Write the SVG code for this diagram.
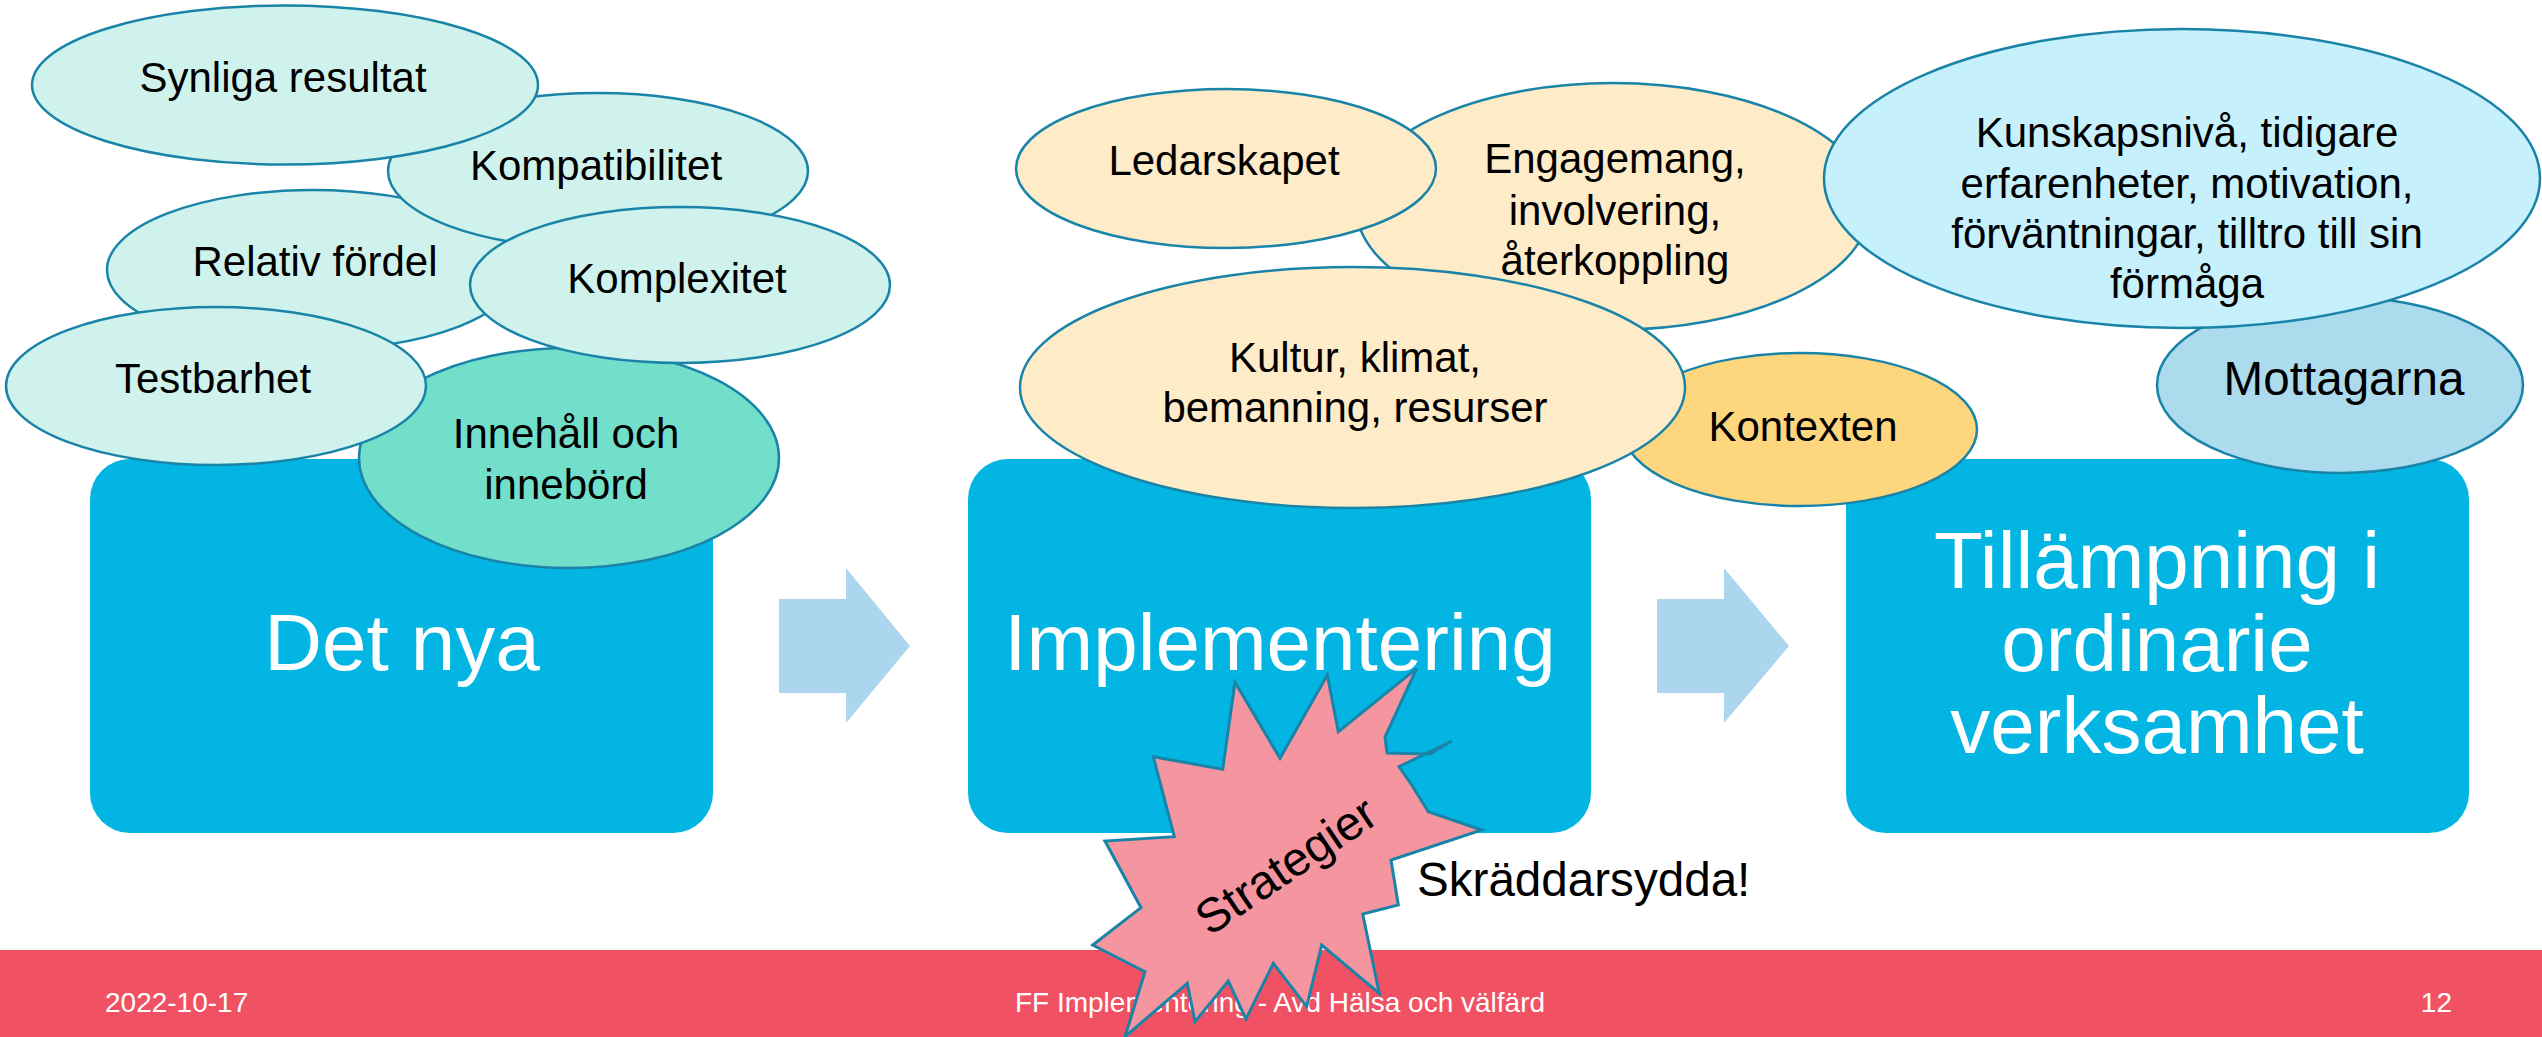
<svg xmlns="http://www.w3.org/2000/svg" width="2542" height="1037" viewBox="0 0 2542 1037">
<style>
.box{fill:#02B5E2;}
.boxtxt{font-family:"Liberation Sans",Arial,sans-serif;font-size:80px;fill:#FFFFFF;text-anchor:middle;}
.ell{stroke:#1A84A8;stroke-width:2.5;}
.teal{fill:#CFF3EC;}
.teal2{fill:#72DFCB;}
.cream{fill:#FEEBC8;}
.gold{fill:#FED67E;}
.sky{fill:#C6F0FC;}
.blue{fill:#ADDBEE;}
.t{font-family:"Liberation Sans",Arial,sans-serif;font-size:42px;fill:#000000;text-anchor:middle;}
.t18{font-family:"Liberation Sans",Arial,sans-serif;font-size:47.6px;fill:#000000;}
.arrow{fill:#ABD6EE;}
.foot{font-family:"Liberation Sans",Arial,sans-serif;font-size:28px;fill:#FFFFFF;}
</style>
<rect width="2542" height="1037" fill="#FFFFFF"/>

<g id="box-det-nya">
<rect class="box" x="90" y="459" width="623" height="374" rx="40" ry="40"/>
<text class="boxtxt" x="402" y="670">Det nya</text>
</g>
<g id="box-implementering">
<rect class="box" x="968" y="459" width="623" height="374" rx="40" ry="40"/>
<text class="boxtxt" x="1280" y="670">Implementering</text>
</g>
<g id="box-tillampning">
<rect class="box" x="1846" y="459" width="623" height="374" rx="40" ry="40"/>
<text class="boxtxt" x="2157" y="588">Tillämpning i</text>
<text class="boxtxt" x="2157" y="671">ordinarie</text>
<text class="boxtxt" x="2157" y="753">verksamhet</text>
</g>

<g id="connectors">
<polygon class="arrow" points="779,599 846,599 846,568 910,646 846,723 846,693 779,693"/>
<polygon class="arrow" points="1657,599 1724,599 1724,568 1789,646 1724,723 1724,693 1657,693"/>
</g>

<g id="innehall">
<ellipse class="ell teal2" cx="569" cy="458" rx="210" ry="110"/>
<text class="t" x="566" y="448">Innehåll och</text>
<text class="t" x="566" y="499">innebörd</text>
</g>
<g id="relativ-fordel">
<ellipse class="ell teal" cx="313" cy="270" rx="206" ry="80"/>
<text class="t" x="315" y="276">Relativ fördel</text>
</g>
<g id="kompatibilitet">
<ellipse class="ell teal" cx="598" cy="171" rx="210" ry="78"/>
<text class="t" x="596" y="180">Kompatibilitet</text>
</g>
<g id="synliga-resultat">
<ellipse class="ell teal" cx="285" cy="85" rx="253" ry="79.5"/>
<text class="t" x="283" y="92">Synliga resultat</text>
</g>
<g id="komplexitet">
<ellipse class="ell teal" cx="680" cy="285" rx="210" ry="78"/>
<text class="t" x="677" y="293">Komplexitet</text>
</g>
<g id="testbarhet">
<ellipse class="ell teal" cx="216" cy="386" rx="210" ry="79"/>
<text class="t" x="213" y="393">Testbarhet</text>
</g>

<g id="engagemang">
<ellipse class="ell cream" cx="1613" cy="206.5" rx="257" ry="123.5"/>
<text class="t" x="1615" y="173">Engagemang,</text>
<text class="t" x="1615" y="225">involvering,</text>
<text class="t" x="1615" y="275">återkoppling</text>
</g>
<g id="ledarskapet">
<ellipse class="ell cream" cx="1226" cy="168.5" rx="210" ry="79.5"/>
<text class="t" x="1224" y="175">Ledarskapet</text>
</g>
<g id="mottagarna">
<ellipse class="ell blue" cx="2340" cy="385" rx="183" ry="88"/>
<text class="t18" x="2344" y="395" text-anchor="middle">Mottagarna</text>
</g>
<g id="kunskapsniva">
<ellipse class="ell sky" cx="2182" cy="178.5" rx="358" ry="149.5"/>
<text class="t" x="2187" y="147">Kunskapsnivå, tidigare</text>
<text class="t" x="2187" y="198">erfarenheter, motivation,</text>
<text class="t" x="2187" y="248">förväntningar, tilltro till sin</text>
<text class="t" x="2187" y="298">förmåga</text>
</g>
<g id="kontexten">
<ellipse class="ell gold" cx="1800" cy="429.5" rx="177" ry="76.5"/>
<text class="t" x="1803" y="441">Kontexten</text>
</g>
<g id="kultur">
<ellipse class="ell cream" cx="1352.5" cy="387.5" rx="332.5" ry="120.5"/>
<text class="t" x="1355" y="372">Kultur, klimat,</text>
<text class="t" x="1355" y="422">bemanning, resurser</text>
</g>

<g id="footer">
<rect x="0" y="950" width="2542" height="87" fill="#F05163"/>
<text class="foot" x="105" y="1012">2022-10-17</text>
<text class="foot" x="1280" y="1012" text-anchor="middle">FF Implementering - Avd Hälsa och välfärd</text>
<text class="foot" x="2452" y="1012" text-anchor="end">12</text>
</g>

<g id="strategier">
<polygon fill="#F5959F" stroke="#1A84A8" stroke-width="3" stroke-linejoin="miter" points="1416.7,668.3 1338.3,731.7 1327.3,675 1280,758.3 1235,682.3 1222.7,769.3 1153.3,756.7 1174.3,836.7 1105,841 1141,907.7 1092.7,945 1145,971.7 1125,1036.7 1187.3,983.3 1195,1021.7 1228.3,981 1246,1019 1273.3,963.3 1306.7,1006.7 1321.7,945 1379.3,993.3 1362.7,914 1398.3,905 1391,860 1481.7,830 1428.3,811.7 1411.7,785 1399,766.7 1451.7,741 1430,754 1387,753 1385,737"/>
<text class="t18" transform="translate(1295,879) rotate(-34)" text-anchor="middle">Strategier</text>
</g>

<g id="skraddarsydda">
<text class="t18" x="1417" y="896">Skräddarsydda!</text>
</g>
</svg>
